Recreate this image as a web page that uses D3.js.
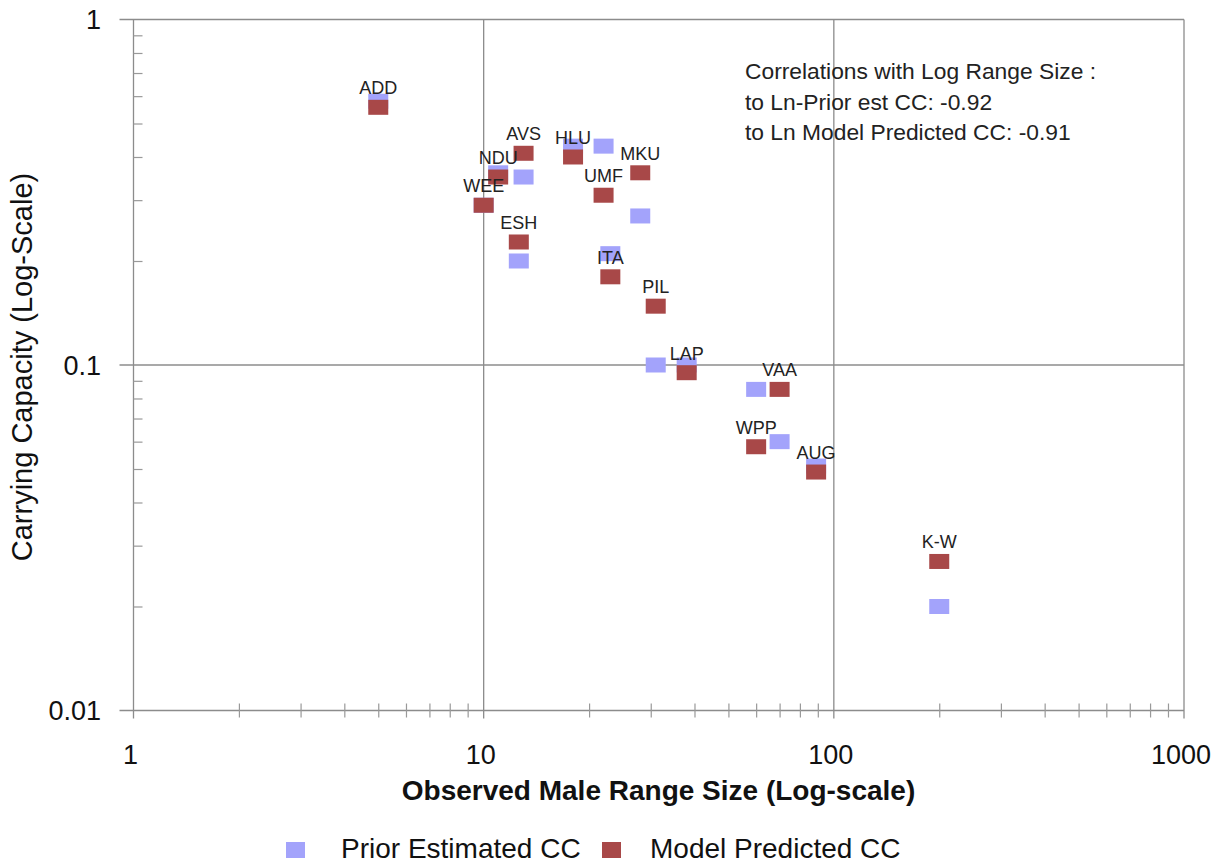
<!DOCTYPE html>
<html>
<head>
<meta charset="utf-8">
<script src="https://cdn.jsdelivr.net/npm/d3@7"></script>
<style>
  html, body { margin: 0; padding: 0; background: #fff; }
  svg { display: block; font-family: Arial, "Liberation Sans", sans-serif; }
</style>
</head>
<body>
<svg id="chart" width="1225" height="865"></svg>
<script>
// Study sites
const sites = ["ADD", "AVS", "NDU", "WEE", "ESH", "HLU", "UMF", "MKU", "ITA", "PIL", "LAP", "VAA", "WPP", "AUG", "K-W"];
// Observed male range size
const rangeSize = [5, 13, 11, 10, 12.6, 18, 22, 28, 23, 31, 38, 70, 60, 89, 200];
// Prior estimated carrying capacity
const priorCC = [0.58, 0.35, 0.36, 0.29, 0.20, 0.43, 0.43, 0.27, 0.21, 0.10, 0.10, 0.06, 0.085, 0.051, 0.020];
// Model predicted carrying capacity
const modelCC = [0.557, 0.41, 0.35, 0.29, 0.227, 0.40, 0.31, 0.36, 0.18, 0.148, 0.095, 0.085, 0.058, 0.049, 0.027];

const xMajor = [1, 10, 100, 1000];
const yMajor = [0.01, 0.1, 1];
const yTickText = ["0.01", "0.1", "1"];
const noteLines = [
  "Correlations with Log Range Size :",
  "to Ln-Prior est CC: -0.92",
  "to Ln Model Predicted CC: -0.91"
];
const seriesNames = ["Prior Estimated CC", "Model Predicted CC"];

const colPrior = "#a3a3fb";
const colModel = "#a84848";
const gridCol = "#8c8c8c";

const svg = d3.select("#chart");
const plotL = 133.5, plotR = 1184, plotT = 19.5, plotB = 710.5;

const x = d3.scaleLog().domain([1, 1000]).range([plotL, plotR]);
const y = d3.scaleLog().domain([0.01, 1]).range([plotB, plotT]);

const minorX = [];
for (let d = 1; d < 1000; d *= 10) for (let k = 2; k <= 9; k++) minorX.push(k * d);
const minorY = [];
for (let d = 0.01; d < 0.99; d *= 10) for (let k = 2; k <= 9; k++) minorY.push(+(k * d).toPrecision(3));

// major gridlines
svg.append("g").selectAll("line").data(xMajor).join("line")
  .attr("x1", d => x(d)).attr("x2", d => x(d))
  .attr("y1", plotT).attr("y2", plotB + 8)
  .attr("stroke", gridCol).attr("stroke-width", 1.3);
svg.append("g").selectAll("line").data(yMajor).join("line")
  .attr("x1", plotL - 14).attr("x2", plotR)
  .attr("y1", d => y(d)).attr("y2", d => y(d))
  .attr("stroke", gridCol).attr("stroke-width", 1.3);

// minor ticks crossing the axes
const xAxis = svg.append("g").attr("transform", `translate(0,${plotB})`)
  .call(d3.axisBottom(x).tickValues(minorX).tickSizeInner(7).tickSizeOuter(0).tickFormat(""));
xAxis.select(".domain").remove();
xAxis.selectAll(".tick line").attr("y1", -7).attr("stroke", "#999").attr("stroke-width", 1.2);

const yAxis = svg.append("g").attr("transform", `translate(${plotL},0)`)
  .call(d3.axisLeft(y).tickValues(minorY).tickSizeInner(10).tickSizeOuter(0).tickFormat(""));
yAxis.select(".domain").remove();
yAxis.selectAll(".tick line").attr("x2", 9).attr("stroke", "#999").attr("stroke-width", 1.2);

// major tick labels
svg.append("g").selectAll("text").data(xMajor).join("text")
  .attr("x", d => x(d) - 3).attr("y", 764)
  .attr("text-anchor", "middle").attr("font-size", 27).attr("fill", "#111")
  .text(d => d);
svg.append("g").selectAll("text").data(yMajor).join("text")
  .attr("x", 101).attr("y", d => y(d)).attr("dy", "0.36em")
  .attr("text-anchor", "end").attr("font-size", 27).attr("fill", "#111")
  .text((d, i) => yTickText[i]);

// axis titles
svg.append("text").attr("x", (402 + 915) / 2).attr("y", 800)
  .attr("text-anchor", "middle").attr("font-size", 28).attr("font-weight", "bold").attr("fill", "#111")
  .text("Observed Male Range Size (Log-scale)");
svg.append("text").attr("transform", "translate(32,367) rotate(-90)")
  .attr("text-anchor", "middle").attr("font-size", 29).attr("fill", "#111")
  .text("Carrying Capacity (Log-Scale)");

// markers
const mw = 20, mh = 15;
svg.append("g").selectAll("rect").data(sites).join("rect")
  .attr("x", (d, i) => x(rangeSize[i]) - mw / 2)
  .attr("y", (d, i) => y(priorCC[i]) - mh / 2)
  .attr("width", mw).attr("height", mh).attr("fill", colPrior);
svg.append("g").selectAll("rect").data(sites).join("rect")
  .attr("x", (d, i) => x(rangeSize[i]) - mw / 2)
  .attr("y", (d, i) => y(modelCC[i]) - mh / 2)
  .attr("width", mw).attr("height", mh).attr("fill", colModel);

// site labels above the model points
svg.append("g").selectAll("text").data(sites).join("text")
  .attr("x", (d, i) => x(rangeSize[i]))
  .attr("y", (d, i) => y(modelCC[i]) - 13)
  .attr("text-anchor", "middle").attr("font-size", 18).attr("fill", "#222")
  .text(d => d);

// correlation note
svg.append("g").selectAll("text").data(noteLines).join("text")
  .attr("x", 745).attr("y", (d, i) => 79 + i * 30.5)
  .attr("font-size", 22.8).attr("fill", "#222")
  .text(d => d);

// legend
const legendX = [286, 602];
const legendTextX = [341, 650];
const legendCol = [colPrior, colModel];
const lg = svg.append("g");
lg.selectAll("rect").data(seriesNames).join("rect")
  .attr("x", (d, i) => legendX[i]).attr("y", 842)
  .attr("width", 19).attr("height", 16).attr("fill", (d, i) => legendCol[i]);
lg.selectAll("text").data(seriesNames).join("text")
  .attr("x", (d, i) => legendTextX[i]).attr("y", 858)
  .attr("font-size", 28).attr("fill", "#111")
  .text(d => d);
</script>
</body>
</html>
